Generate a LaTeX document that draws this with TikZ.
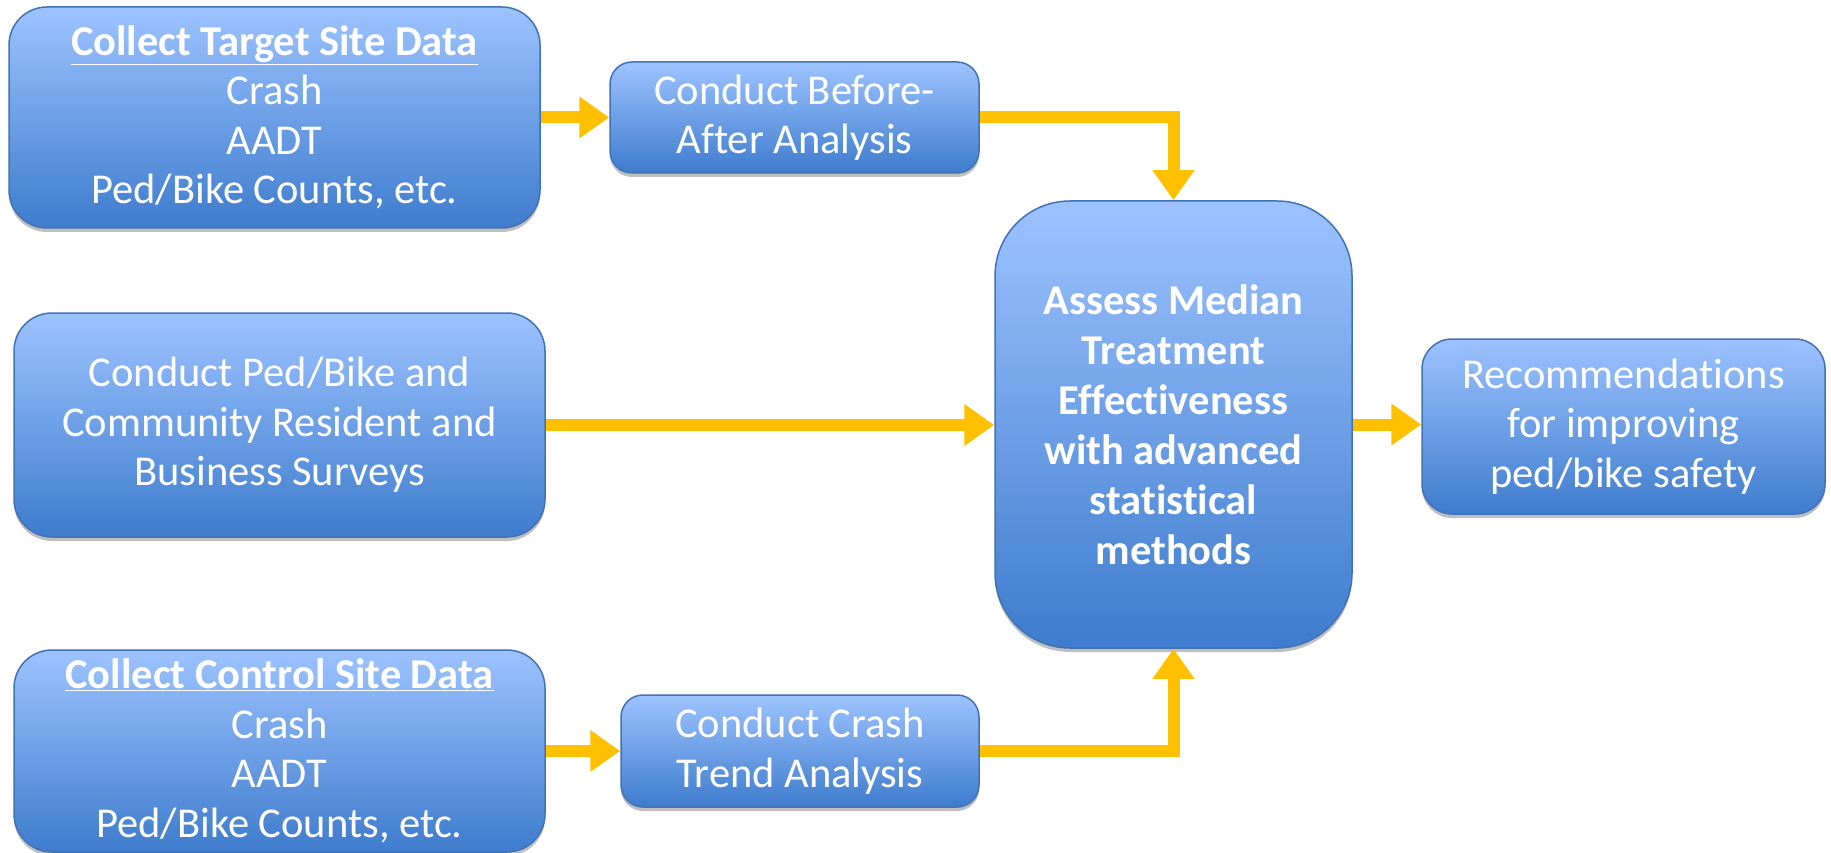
\documentclass[tikz,border=0pt]{standalone}
\usepackage{fontspec}
\setmainfont{Carlito}[RawFeature=-liga]
\usetikzlibrary{arrows.meta,shadows}
\definecolor{boxtop}{RGB}{157,195,255}
\definecolor{boxbot}{RGB}{62,124,205}
\definecolor{boxline}{RGB}{66,114,182}
\definecolor{arrowc}{RGB}{255,192,0}
\tikzset{
  box/.style={draw=boxline, line width=1.5pt, top color=boxtop, bottom color=boxbot,
    text=white, align=center, inner sep=0pt,
    font=\fontsize{42.5}{49.5}\selectfont,
    drop shadow={shadow xshift=0pt, shadow yshift=-4pt, opacity=0.25, fill=black}},
  arr/.style={draw=arrowc, line width=12pt, line join=miter,
    -{Triangle[length=30pt,width=40pt]}}
}
\begin{document}
\begin{tikzpicture}[x=1pt,y=-1pt]
\useasboundingbox (0,0) rectangle (1831,853);
\node[box, rounded corners=38pt, minimum width=531pt, minimum height=221pt] (A) at (274.5,117.5)
  {\textbf{\underline{Collect Target Site Data}}\\Crash\\AADT\\Ped/Bike Counts, etc.};
\node[box, rounded corners=22pt, minimum width=369pt, minimum height=111pt] (B) at (794.5,117.5)
  {Conduct Before-\\After Analysis};
\node[box, rounded corners=75pt, minimum width=357pt, minimum height=447pt,
  font=\fontsize{42.5}{50}\selectfont\bfseries] (C) at (1173.5,424.5)
  {Assess Median\\Treatment\\Effectiveness\\with advanced\\statistical\\methods};
\node[box, rounded corners=38pt, minimum width=531pt, minimum height=224pt] (D) at (279.5,425)
  {Conduct Ped/Bike and\\Community Resident and\\Business Surveys};
\node[box, rounded corners=30pt, minimum width=403pt, minimum height=175pt] (E) at (1623.5,426.5)
  {Recommendations\\for improving\\ped/bike safety};
\node[box, rounded corners=38pt, minimum width=531pt, minimum height=202pt] (F) at (279.5,751)
  {\textbf{\underline{Collect Control Site Data}}\\Crash\\AADT\\Ped/Bike Counts, etc.};
\node[box, rounded corners=22pt, minimum width=358pt, minimum height=112pt] (G) at (800,751)
  {Conduct Crash\\Trend Analysis};
\draw[arr] (A.east) -- (B.west);
\draw[arr] (B.east) -| (C.north);
\draw[arr] (D.east) -- (D.east -| C.west);
\draw[arr] (C.east) -- (C.east -| E.west);
\draw[arr] (F.east) -- (F.east -| G.west);
\draw[arr] (G.east) -| (C.south);
\end{tikzpicture}
\end{document}
